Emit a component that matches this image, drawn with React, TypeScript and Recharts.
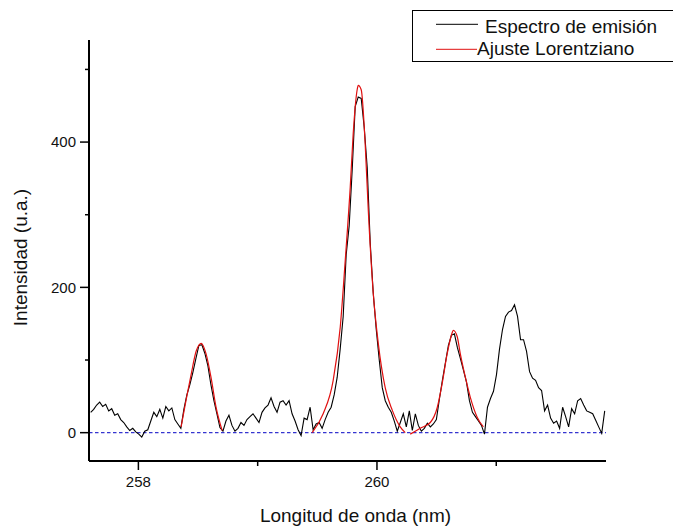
import { ComposedChart, Line, XAxis, YAxis, ReferenceLine, Legend, Label } from "recharts";

const FONT = '"Liberation Sans", Arial, Helvetica, sans-serif';

// spectrometer grid (nm)
const WL_START = 257.6;
const WL_STEP = 0.0252;

// measured intensity (u.a.), one value per grid step, left to right
const specLeft = [28, 32, 38, 42, 36, 39, 30, 33, 24, 26, 18, 14, 8, 3, 6, 1, -2, -6, 2, 4, 16, 28, 22, 32, 20, 36, 30, 34, 18, 12, 6];
const specPeak1 = [32, 52, 66, 83, 102, 120, 121, 109, 92, 66, 44, 26, 7, 2];
const specMid = [16, 24, 10, 2, 6, 14, 10, 18, 22, 26, 20, 14, 28, 34, 38, 48, 36, 28, 42, 44, 38, 44, 26, 16, 4, -4, 20, 18, 35, 4, 12, 14, 6, 18, 28];
const specPeak2 = [35, 52, 76, 115, 160, 245, 285, 362, 449, 462, 460, 420, 365, 261, 192, 142, 100, 62, 44, 35, 28, 16, 2, 14, 26, 8, 30, 3, 26, 10];
const specPeak3 = [2, 6, 13, 8, 12, 18, 46, 72, 96, 120, 134, 136, 117, 102, 86, 70, 44, 28, 22, 16, 10, -2];
const specRight = [35, 47, 57, 80, 115, 142, 160, 166, 168, 176, 160, 128, 128, 112, 84, 75, 72, 62, 58, 30, 38, 20, 13, 16, 6, 35, 22, 8, 33, 26, 44, 47, 38, 30, 28, 26, 17, 8, -1, 30];

// Lorentzian fits around the three lines
const fit1Wl = [258.358, 258.4, 258.442, 258.484, 258.509, 258.526, 258.542, 258.568, 258.61, 258.651, 258.702];
const fit1I = [8, 45, 80, 112, 121, 123, 120, 108, 75, 35, 3];
const fit2Wl = [259.457, 259.549, 259.633, 259.692, 259.734, 259.776, 259.801, 259.834, 259.843, 259.868, 259.901, 259.927, 259.969, 260.011, 260.069, 260.128, 260.195, 260.237];
const fit2I = [0, 26, 72, 145, 237, 338, 412, 472, 478, 472, 398, 307, 192, 123, 62, 31, 8, 0];
const fit3Wl = [260.279, 260.363, 260.447, 260.506, 260.547, 260.589, 260.631, 260.64, 260.673, 260.698, 260.74, 260.782, 260.841, 260.892];
const fit3I = [-2, 6, 14, 35, 68, 109, 138, 141, 132, 109, 77, 49, 21, 8];

const xTicks = [258, 259, 260, 261];
const yTicks = [0, 100, 200, 300, 400, 500];

const spectrum = [...specLeft, ...specPeak1, ...specMid, ...specPeak2, ...specPeak3, ...specRight].map((v, k) => ({
  w: +(WL_START + k * WL_STEP).toFixed(4),
  i: v,
}));
const toPts = (wl: number[], vals: number[]) => wl.map((w, k) => ({ w, i: vals[k] }));
const fit1 = toPts(fit1Wl, fit1I);
const fit2 = toPts(fit2Wl, fit2I);
const fit3 = toPts(fit3Wl, fit3I);

const XTick = ({ x, y, payload }: any) => {
  const major = payload.value % 2 === 0;
  return (
    <g>
      <line x1={x} x2={x} y1={y} y2={y + (major ? 9 : 5)} stroke="#000" strokeWidth={1.5} />
      {major && (
        <text x={x} y={y + 26} textAnchor="middle" fontSize={15} fontFamily={FONT} fill="#111">
          {payload.value}
        </text>
      )}
    </g>
  );
};

const YTick = ({ x, y, payload }: any) => {
  const major = payload.value % 200 === 0;
  return (
    <g>
      <line x1={x} x2={x - (major ? 9 : 4)} y1={y} y2={y} stroke="#000" strokeWidth={1.5} />
      {major && (
        <text x={x - 13} y={y} dy="0.36em" textAnchor="end" fontSize={15} fontFamily={FONT} fill="#111">
          {payload.value}
        </text>
      )}
    </g>
  );
};

const renderLegend = () => (
  <svg width={261} height={52} style={{ display: "block" }}>
    <rect x={0.5} y={0.5} width={280} height={51} fill="#fff" stroke="#000" strokeWidth={1} />
    <line x1={24} x2={66} y1={14.3} y2={14.3} stroke="#000" strokeWidth={1} />
    <text x={73} y={23} fontSize={19} fontFamily={FONT} fill="#111">
      Espectro de emisión
    </text>
    <line x1={24} x2={65} y1={39.3} y2={39.3} stroke="#e01010" strokeWidth={1} />
    <text x={65} y={45} fontSize={19} fontFamily={FONT} fill="#111">
      Ajuste Lorentziano
    </text>
  </svg>
);

export default function App() {
  return (
    <div style={{ position: "absolute", left: 0, top: 0, fontFamily: FONT }}>
      <ComposedChart width={673} height={527} margin={{ top: 40, right: 67, bottom: 0, left: 0 }}>
        <XAxis
          type="number"
          dataKey="w"
          domain={[257.586, 261.92]}
          ticks={xTicks}
          interval={0}
          allowDataOverflow
          height={66}
          tickSize={0}
          tickMargin={0}
          tickLine={false}
          tick={XTick}
          axisLine={{ stroke: "#000", strokeWidth: 2 }}
        >
          <Label
            content={({ viewBox }: any) => (
              <text
                x={viewBox.x + viewBox.width / 2 + 8}
                y={viewBox.y + 61}
                textAnchor="middle"
                fontSize={19}
                fontFamily={FONT}
                fill="#111"
              >
                Longitud de onda (nm)
              </text>
            )}
          />
        </XAxis>
        <YAxis
          type="number"
          domain={[-39, 540.5]}
          ticks={yTicks}
          interval={0}
          allowDataOverflow
          width={89}
          tickSize={0}
          tickMargin={0}
          tickLine={false}
          tick={YTick}
          axisLine={{ stroke: "#000", strokeWidth: 2 }}
        >
          <Label
            content={({ viewBox }: any) => {
              const cx = 27;
              const cy = viewBox.y + viewBox.height / 2 + 7;
              return (
                <text
                  x={cx}
                  y={cy}
                  transform={`rotate(-90, ${cx}, ${cy})`}
                  textAnchor="middle"
                  fontSize={19}
                  fontFamily={FONT}
                  fill="#111"
                >
                  Intensidad (u.a.)
                </text>
              );
            }}
          />
        </YAxis>
        <ReferenceLine y={0} stroke="#3535d0" strokeDasharray="3.5 2.5" strokeWidth={1.2} />
        <Line data={spectrum} dataKey="i" type="linear" stroke="#000" strokeWidth={1.1} dot={false} activeDot={false} isAnimationActive={false} />
        <Line data={fit1} dataKey="i" type="monotone" stroke="#e01010" strokeWidth={1.2} dot={false} activeDot={false} isAnimationActive={false} />
        <Line data={fit2} dataKey="i" type="monotone" stroke="#e01010" strokeWidth={1.2} dot={false} activeDot={false} isAnimationActive={false} />
        <Line data={fit3} dataKey="i" type="monotone" stroke="#e01010" strokeWidth={1.2} dot={false} activeDot={false} isAnimationActive={false} />
        <Legend
          layout="vertical"
          align="center"
          verticalAlign="middle"
          content={renderLegend}
          wrapperStyle={{ position: "absolute", top: 10, left: 412, width: 261, height: 52 }}
        />
      </ComposedChart>
    </div>
  );
}
